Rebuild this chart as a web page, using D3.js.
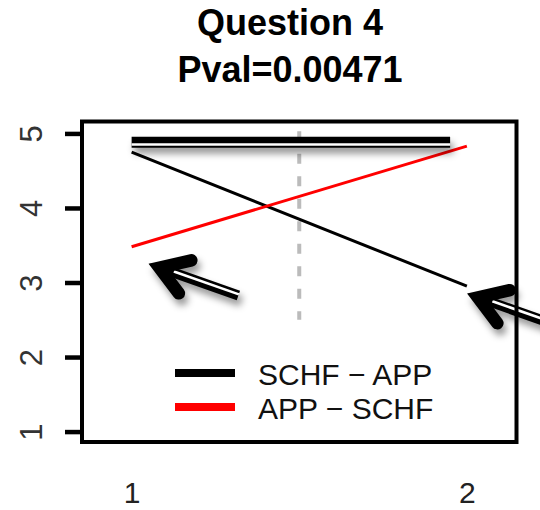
<!DOCTYPE html>
<html><head><meta charset="utf-8">
<script src="https://cdn.jsdelivr.net/npm/d3@7"></script>
<style>html,body{margin:0;padding:0;background:#fff;} svg{display:block}</style>
</head><body><svg id="c" width="540" height="510"></svg>
<script>
// ---- data ----
const xTickLabels = [1, 2];
const yTickLabels = [1, 2, 3, 4, 5];
const seriesNames = ["SCHF \u2212 APP", "APP \u2212 SCHF"];
const seriesColors = ["#000000", "#ff0000"];
const schfApp = [4.75, 2.95];
const appSchf = [3.48, 4.83];
const titleLines = ["Question 4", "Pval=0.00471"];
// annotations, in data units
const arrowTips = [[1.05, 3.25], [2.0, 2.85]];
const midLine = [1.5, 2.5, 5.03];      // x, y from, y to
const highlight = [1.0, 1.95, 4.88];   // x from, x to, y

const FONT = "'Liberation Sans', Arial, sans-serif";
const svg = d3.select("#c");
const box = {l: 82, r: 516.5, t: 121.5, b: 442};
const x = d3.scaleLinear().domain([0.852, 2.148]).range([box.l, box.r]);
const y = d3.scaleLinear().domain([0.84, 5.16]).range([443.5, 121.5]);

const defs = svg.append("defs");
const f = defs.append("filter").attr("id", "sh").attr("filterUnits", "userSpaceOnUse")
  .attr("x", 0).attr("y", 0).attr("width", 560).attr("height", 520);
f.append("feDropShadow").attr("dx", 3).attr("dy", 6).attr("stdDeviation", 3.5)
  .attr("flood-color", "#000").attr("flood-opacity", 0.4);

// title
svg.selectAll("text.title").data(titleLines).join("text").attr("class", "title")
  .attr("x", 290).attr("y", (d, i) => 35 + i * 47)
  .attr("text-anchor", "middle").style("font-family", FONT)
  .style("font-weight", "bold").style("font-size", "36px").text(d => d);

// y axis
const ya = svg.append("g").attr("transform", "translate(80,0)")
  .call(d3.axisLeft(y).tickValues(yTickLabels).tickSize(15).tickFormat(d3.format("d")));
ya.select(".domain").remove();
ya.selectAll(".tick line").attr("stroke", "#000").attr("stroke-width", 4.5);
ya.selectAll(".tick text").attr("x", null).attr("dy", null)
  .attr("transform", "translate(-38,0) rotate(-90)").attr("text-anchor", "middle")
  .attr("fill", "#333").style("font-family", FONT).style("font-size", "31px");

// x axis
const xa = svg.append("g").attr("transform", `translate(0,${box.b})`)
  .call(d3.axisBottom(x).tickValues(xTickLabels).tickSize(0).tickFormat(d3.format("d")));
xa.select(".domain").remove();
xa.selectAll(".tick text").attr("y", 61).attr("dy", null).attr("fill", "#222")
  .style("font-family", FONT).style("font-size", "30px");

// dashed mid line
svg.append("line").attr("x1", x(midLine[0])).attr("x2", x(midLine[0]))
  .attr("y1", y(midLine[2])).attr("y2", y(midLine[1]))
  .attr("stroke", "#bbbbbb").attr("stroke-width", 4).attr("stroke-dasharray", "10,12.5");

// series lines
const line = d3.line().x(d => x(d[0])).y(d => y(d[1]));
const series = [schfApp, appSchf];
series.forEach((vals, i) => {
  svg.append("path").attr("d", line(xTickLabels.map((c, j) => [c, vals[j]])))
    .attr("fill", "none").attr("stroke", seriesColors[i]).attr("stroke-width", 3);
});

// highlight bar
const hg = svg.append("g").attr("filter", "url(#sh)");
hg.append("line").attr("x1", x(highlight[0])).attr("x2", x(highlight[1]))
  .attr("y1", y(highlight[2])).attr("y2", y(highlight[2]))
  .attr("stroke", "#000").attr("stroke-width", 11);
hg.append("line").attr("x1", x(highlight[0])).attr("x2", x(highlight[1]))
  .attr("y1", y(highlight[2]) + 2.2).attr("y2", y(highlight[2]) + 2.2)
  .attr("stroke", "#fff").attr("stroke-width", 2.4);

// arrows
function drawArrow(T) {
  const tx = x(T[0]), ty = y(T[1]);
  const p = (dx, dy) => [tx + dx, ty + dy];
  const g = svg.append("g").attr("filter", "url(#sh)");
  const s0 = p(12, 4.2), s1 = p(90, 31.7);
  g.append("path").attr("d", d3.line()([s0, s1])).attr("stroke", "#000").attr("stroke-width", 10).attr("fill", "none");
  g.append("path").attr("d", d3.line()([p(25.5, 7.6), p(90.5, 30.5)])).attr("stroke", "#fff").attr("stroke-width", 2.6).attr("fill", "none");
  const V = p(11, 3.8), C1 = p(43, -3.5), C2 = p(30.5, 29.5);
  g.append("path").attr("d", d3.line()([p(1, 0), p(25.5, -1), p(21.5, 7.4), p(17.5, 14)]) + "Z").attr("fill", "#000");
  g.append("path").attr("d", d3.line()([C1, V, C2])).attr("fill", "none").attr("stroke", "#000")
    .attr("stroke-width", 12.5).attr("stroke-linecap", "round").attr("stroke-linejoin", "miter");
}
arrowTips.forEach(drawArrow);

// legend
const lg = svg.append("g");
seriesNames.forEach((name, i) => {
  const yy = 373 + i * 34;
  lg.append("line").attr("x1", 175).attr("x2", 235).attr("y1", yy).attr("y2", yy)
    .attr("stroke", seriesColors[i]).attr("stroke-width", 8);
  lg.append("text").attr("x", 258).attr("y", yy + 11.5).style("font-family", FONT)
    .style("font-size", "30px").attr("fill", "#111").text(name);
});

// plot box
svg.append("rect").attr("x", box.l).attr("y", box.t).attr("width", box.r - box.l)
  .attr("height", box.b - box.t).attr("fill", "none").attr("stroke", "#000").attr("stroke-width", 4);
</script></body></html>
